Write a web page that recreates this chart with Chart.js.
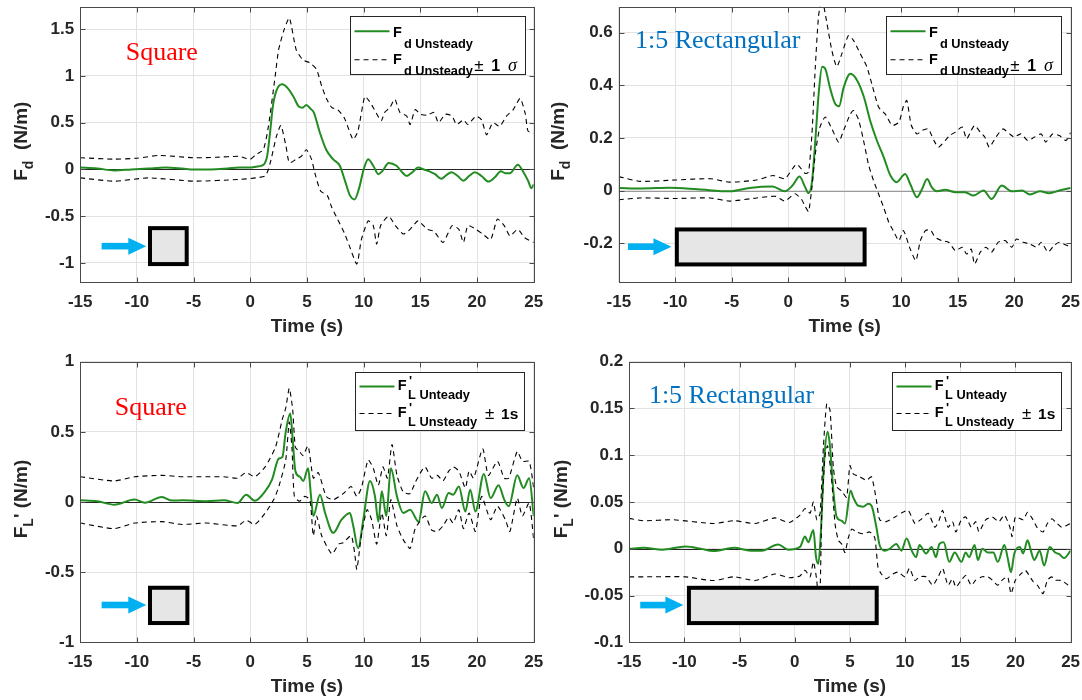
<!DOCTYPE html>
<html>
<head>
<meta charset="utf-8">
<script src="https://cdn.jsdelivr.net/npm/chart.js@4.4.1/dist/chart.umd.min.js"></script>
<style>
  body { margin: 0; background: #fff; }
  #wrap { position: relative; width: 1082px; height: 700px; overflow: hidden; background: #fff; }
  canvas { position: absolute; }
</style>
</head>
<body>
<div id="wrap">
  <canvas id="dragSquare" width="560" height="350" style="left:0;top:0"></canvas>
  <canvas id="dragRect" width="541" height="350" style="left:541px;top:0"></canvas>
  <canvas id="liftSquare" width="560" height="350" style="left:0;top:350px"></canvas>
  <canvas id="liftRect" width="541" height="350" style="left:541px;top:350px"></canvas>
</div>
<script>
// ---- data (time in s, force in N/m) ----
const xTicks = [-15, -10, -5, 0, 5, 10, 15, 20, 25];

// drag, square cylinder
const dragSqTime = [-15,-13.5,-12,-10.5,-9,-7.5,-6,-5,-3.5,-2,-1,0,0.5,1,1.3,1.5,1.75,2,2.3,2.8,3.3,3.8,4.3,4.6,4.95,5.3,5.6,6.15,6.7,7.3,7.9,8.35,8.8,9.2,9.6,10,10.4,10.85,11.3,11.7,12.2,12.9,13.4,13.8,14.3,14.8,15.3,15.8,16.3,16.85,17.3,17.75,18.3,18.8,19.3,19.8,20.4,21,21.6,22.1,22.5,22.9,23.6,24.1,24.5,24.8,25];
const dragSqMean = [0.02,0.01,-0.01,0,0.01,0.02,0.01,0,0,0.01,0.02,0.02,0.03,0.04,0.07,0.15,0.4,0.68,0.84,0.91,0.87,0.78,0.67,0.66,0.69,0.65,0.61,0.39,0.21,0.11,0.04,-0.12,-0.28,-0.32,-0.2,0,0.11,0.04,-0.05,-0.01,0.07,0.04,-0.03,-0.07,-0.03,0.02,0,-0.02,-0.05,-0.1,-0.06,-0.03,-0.07,-0.12,-0.07,-0.03,-0.07,-0.13,-0.08,-0.02,-0.04,-0.04,0.05,-0.03,-0.12,-0.2,-0.16];
const dragSqUpTime = [-15,-12,-10,-8,-5,-3,-1,0,0.5,1.15,1.6,2.2,2.5,3,3.45,4.05,4.65,5.25,5.85,6.3,6.75,7.2,7.7,8.3,8.9,9.1,9.5,10.1,10.5,10.95,11.55,11.85,12.3,12.75,13.2,13.8,14.1,14.55,15,15.6,16.2,16.6,17.2,17.8,18.2,18.8,19.2,19.9,20.4,20.85,21.4,22,22.6,23.2,23.8,24.25,24.5,25];
const dragSqUp = [0.125,0.11,0.12,0.15,0.125,0.13,0.14,0.11,0.16,0.21,0.46,1.0,1.28,1.5,1.62,1.28,1.17,1.14,1.07,0.89,0.75,0.66,0.64,0.55,0.36,0.32,0.41,0.78,0.73,0.64,0.52,0.61,0.66,0.75,0.61,0.57,0.48,0.64,0.59,0.58,0.61,0.5,0.59,0.57,0.48,0.53,0.48,0.57,0.53,0.37,0.5,0.46,0.57,0.64,0.76,0.6,0.41,0.39];
const dragSqLoTime = [-15,-12,-9,-5,-1,0.5,1.3,1.6,1.9,2.3,2.7,3.15,3.45,4.05,4.5,4.95,5.4,5.7,6.2,6.8,7.2,7.7,8.3,8.75,9.4,9.8,10.4,10.85,11.15,11.5,12.2,12.8,13.5,14.1,14.8,15.6,16.2,17,17.8,18.4,18.8,19.2,19.9,20.5,21.2,21.8,22.4,22.9,23.6,24.2,25];
const dragSqLo = [-0.09,-0.125,-0.09,-0.125,-0.107,-0.09,-0.07,0,0.14,0.35,0.47,0.25,0.07,0.11,0.14,0.21,0.11,-0.04,-0.23,-0.28,-0.41,-0.53,-0.68,-0.82,-1.01,-0.75,-0.55,-0.6,-0.8,-0.6,-0.5,-0.6,-0.69,-0.64,-0.55,-0.64,-0.66,-0.78,-0.6,-0.64,-0.78,-0.6,-0.64,-0.69,-0.75,-0.53,-0.6,-0.71,-0.64,-0.73,-0.78];
const dragSqTicks = [-1, -0.5, 0, 0.5, 1, 1.5];

// drag, 1:5 rectangular cylinder
const dragRectTime = [-15,-13,-10.5,-8,-5.2,-3.4,-1.4,-0.3,0.4,1,1.5,1.8,2.1,2.4,2.7,3,3.3,3.7,4.15,4.5,4.9,5.5,6.1,6.7,7.25,7.85,8.45,9.05,9.6,10.35,10.8,11.4,11.85,12.3,12.7,13.15,13.9,14.8,15.65,16.4,17.3,18,18.9,19.8,20.7,21.4,22.3,23.1,24,25];
const dragRectMean = [0.01,0.008,0.011,0.005,-0.003,0.01,0.015,-0.003,0.02,0.053,0.013,-0.01,0.032,0.19,0.37,0.47,0.46,0.39,0.33,0.32,0.39,0.443,0.418,0.355,0.266,0.19,0.127,0.057,0.032,0.063,0.025,-0.025,0.006,0.044,0.013,-0.003,0.003,-0.006,-0.006,-0.019,0,-0.032,0.019,-0.003,0,-0.015,-0.003,-0.01,0,0.01];
const dragRectUpTime = [-15,-13.1,-10,-6.9,-5.2,-2.8,-1.35,-0.3,0.74,1.5,1.8,2.1,2.4,2.68,2.98,3.43,3.87,4.3,4.75,5.34,5.78,6.37,6.96,7.4,8,8.6,9.2,9.8,10.2,10.5,10.9,11.4,11.85,12.4,12.9,13.3,13.9,14.3,14.8,15.4,15.8,16.2,16.5,17,17.4,17.8,18.4,19,19.6,20,20.6,21.2,21.8,22.4,22.8,23.4,24,24.6,25];
const dragRectUp = [0.053,0.035,0.04,0.045,0.032,0.04,0.057,0.045,0.1,0.065,0.07,0.215,0.47,0.66,0.73,0.634,0.53,0.47,0.52,0.589,0.57,0.52,0.47,0.405,0.317,0.29,0.247,0.26,0.32,0.342,0.247,0.215,0.228,0.234,0.19,0.165,0.19,0.209,0.222,0.241,0.196,0.228,0.247,0.222,0.203,0.165,0.203,0.234,0.215,0.203,0.215,0.19,0.203,0.215,0.184,0.215,0.209,0.19,0.22];
const dragRectLoTime = [-15,-13.1,-10,-6.9,-5.2,-2.8,-1.1,-0.3,0.6,1.2,1.5,1.8,2.1,2.4,2.8,3.28,3.87,4.46,4.9,5.49,5.78,6.22,6.67,7.1,7.55,8,8.44,8.9,9.3,9.8,10.2,10.8,11.3,11.7,12.15,12.6,13,13.6,14.2,14.8,15.4,15.8,16.2,16.5,17,17.5,18,18.6,19.2,19.8,20.2,20.8,21.4,22,22.4,23,23.5,24,25];
const dragRectLo = [-0.035,-0.028,-0.03,-0.028,-0.04,-0.028,-0.022,-0.04,-0.012,-0.035,-0.06,-0.08,0.013,0.14,0.24,0.279,0.234,0.184,0.228,0.29,0.304,0.27,0.19,0.1,0.038,-0.013,-0.063,-0.12,-0.152,-0.19,-0.152,-0.222,-0.266,-0.19,-0.152,-0.15,-0.177,-0.19,-0.196,-0.228,-0.215,-0.241,-0.222,-0.279,-0.234,-0.215,-0.234,-0.196,-0.19,-0.215,-0.184,-0.196,-0.203,-0.215,-0.196,-0.234,-0.21,-0.196,-0.215];
const dragRectTicks = [-0.2, 0, 0.2, 0.4, 0.6];

// lift, square cylinder
const liftSqTime = [-15,-13.5,-12,-10.2,-9.3,-7.8,-6.9,-6,-3.85,-2.33,-1.12,-0.36,0.4,1.31,1.92,2.52,2.83,3.13,3.53,3.74,3.98,4.38,4.67,5.1,5.35,5.56,6.15,6.6,7.32,8.05,8.79,9.08,9.52,9.97,10.56,11,11.3,11.6,12,12.4,12.94,13.5,14.1,14.84,15.42,16,16.47,16.9,17.5,17.9,18.4,18.97,19.4,19.86,20.6,21.2,21.9,22.4,22.8,23.55,24.1,24.6,25];
const liftSqMean = [0.012,0.005,-0.019,0.017,-0.005,0.036,0.01,0.012,0.005,0.012,-0.007,0.052,0.009,0.076,0.16,0.31,0.32,0.5,0.63,0.45,0.22,0.18,0.15,0.24,0.05,-0.1,0.052,-0.078,-0.22,-0.126,-0.078,-0.17,-0.33,-0.126,0.15,0.04,-0.14,0.076,-0.1,0.24,0.04,-0.078,-0.055,-0.14,0.076,-0.007,0.052,-0.043,0.064,0.052,0.11,-0.067,0.088,-0.067,0.2,0.028,0.12,0.017,-0.03,0.19,0.1,0.17,-0.1];
const liftSqUpTime = [-15,-12,-10.2,-7.8,-6,-3.85,-2.33,-1.12,-0.36,0.4,1.31,2.22,2.83,3.13,3.44,3.74,3.98,4.35,4.65,5.1,5.56,6,6.7,7.32,8.2,8.9,9.4,9.8,10.4,10.85,11.3,11.7,12.1,12.5,12.94,13.5,14.1,14.55,15.4,16,16.5,17,17.5,17.9,18.4,18.97,19.3,19.7,20.5,21,21.8,22.4,22.8,23.55,24,24.6,25];
const liftSqUp = [0.18,0.15,0.18,0.19,0.18,0.18,0.18,0.17,0.21,0.18,0.25,0.39,0.59,0.67,0.81,0.66,0.39,0.36,0.33,0.4,0.17,0.21,0.04,0.016,0.06,0.11,0.04,0.1,0.3,0.24,0.12,0.25,0.17,0.41,0.19,0.07,0.06,0.14,0.25,0.17,0.19,0.15,0.22,0.25,0.22,0.1,0.22,0.17,0.38,0.19,0.29,0.17,0.17,0.36,0.29,0.29,0.1];
const liftSqLoTime = [-15,-12,-10.2,-7.8,-6,-3.85,-1.12,-0.36,0.4,1.31,2.07,2.52,3.13,3.44,3.68,3.89,4.35,4.8,5.26,5.56,5.85,6.3,7.2,7.8,8.2,8.9,9.2,9.4,9.8,10.3,10.7,11.15,11.6,12,12.4,12.94,13.5,14.1,14.55,15.42,16,16.5,17,17.5,17.9,18.4,18.8,19.3,19.86,20.4,21.2,21.8,22.5,22.9,23.55,24,24.6,25];
const liftSqLo = [-0.15,-0.19,-0.15,-0.14,-0.16,-0.15,-0.17,-0.13,-0.16,-0.08,0.017,0.11,0.3,0.57,0.38,0.04,0.005,0.04,0.017,-0.24,-0.1,-0.24,-0.37,-0.3,-0.29,-0.24,-0.36,-0.48,-0.24,-0.055,-0.126,-0.3,-0.078,-0.24,0.017,-0.17,-0.27,-0.33,-0.19,-0.1,-0.2,-0.21,-0.17,-0.11,-0.15,-0.055,-0.19,-0.078,-0.21,0.04,-0.126,-0.03,-0.126,-0.21,0.028,-0.1,-0.007,-0.27];
const liftSqTicks = [-1, -0.5, 0, 0.5, 1];

// lift, 1:5 rectangular cylinder
const liftRectTime = [-15,-13.7,-12,-9.9,-8.5,-7.4,-5.5,-4,-3,-1.5,-0.6,0.48,0.93,1.23,1.69,1.93,2.14,2.35,2.65,2.98,3.2,3.5,3.8,4.25,4.55,5.06,5.3,5.75,6.2,6.66,6.96,7.4,7.7,8.16,8.6,9.2,9.67,10.13,10.6,11,11.3,11.9,12.4,12.8,13.1,13.5,14,14.5,15.1,15.5,15.8,16.3,16.6,17,17.5,18,18.4,19,19.3,19.6,19.9,20.4,20.7,21.1,21.4,21.7,22.2,22.6,23.1,23.6,24,24.4,25];
const liftRectMean = [0,0.001,-0.001,0.0025,0,-0.0025,0.001,-0.002,-0.002,0.0046,-0.001,0.002,0.013,0.007,0.02,-0.009,-0.016,0.013,0.091,0.125,0.109,0.062,0.034,0.03,0.027,0.062,0.055,0.046,0.045,0.048,0.046,0.023,0.0035,-0.002,0,0.005,-0.002,0.011,-0.002,-0.009,0.004,-0.005,0.002,-0.009,0.005,0.007,-0.014,-0.004,-0.014,-0.004,-0.009,0.004,-0.012,0,-0.004,-0.004,-0.014,0.004,-0.01,-0.025,-0.005,0.002,-0.005,0.009,-0.002,-0.012,-0.002,-0.018,0.002,-0.004,-0.006,-0.01,-0.002];
const liftRectUpTime = [-15,-13.7,-11,-7.4,-5.5,-3.6,-1.8,-0.5,0.48,0.93,1.39,1.69,2,2.3,2.6,2.9,3.2,3.5,3.8,4.25,4.7,5,5.3,5.9,6.5,6.96,7.4,7.7,8.3,9.1,9.8,10.3,10.9,11.5,12.1,12.7,13.1,13.4,13.9,14.3,14.6,15.1,15.5,16,16.4,16.7,17.3,17.9,18.5,19,19.5,19.7,20,20.7,21.1,21.6,22,22.5,22.9,23.3,23.6,24.2,25];
const liftRectUp = [0.0325,0.03,0.031,0.027,0.03,0.027,0.033,0.028,0.036,0.043,0.038,0.05,0.031,0.038,0.109,0.155,0.148,0.087,0.066,0.062,0.055,0.089,0.08,0.077,0.073,0.077,0.052,0.031,0.029,0.034,0.039,0.041,0.027,0.032,0.038,0.023,0.031,0.041,0.023,0.029,0.018,0.031,0.034,0.023,0.029,0.018,0.031,0.034,0.029,0.036,0.023,0.013,0.034,0.031,0.039,0.031,0.022,0.018,0.027,0.032,0.029,0.023,0.027];
const liftRectLoTime = [-15,-13.7,-9.9,-7.4,-5.5,-3.6,-1.8,-0.5,0.48,0.93,1.39,1.69,2,2.14,2.3,2.45,2.75,2.98,3.35,3.65,3.95,4.25,4.55,4.86,5.17,5.6,6.2,6.8,7.25,7.55,7.85,8.3,8.9,9.35,10,10.4,10.9,11.3,11.9,12.5,13,13.4,13.9,14.3,14.6,15.1,15.5,16,16.4,17,17.5,17.9,18.4,18.8,19.3,19.6,20,20.5,20.9,21.6,22,22.5,22.9,23.3,23.6,24.2,25];
const liftRectLo = [-0.03,-0.03,-0.03,-0.034,-0.03,-0.034,-0.027,-0.031,-0.029,-0.023,-0.03,-0.014,-0.034,-0.06,-0.045,0.037,0.1,0.11,0.073,0.027,0.009,0.005,-0.004,0.012,0.021,0.018,0.016,0.018,0.012,-0.02,-0.027,-0.032,-0.027,-0.025,-0.03,-0.021,-0.034,-0.03,-0.03,-0.039,-0.03,-0.021,-0.039,-0.032,-0.041,-0.0335,-0.0286,-0.039,-0.0335,-0.03,-0.03,-0.0335,-0.039,-0.0335,-0.03,-0.048,-0.0335,-0.0268,-0.023,-0.035,-0.039,-0.048,-0.0335,-0.03,-0.0335,-0.034,-0.041];
const liftRectTicks = [-0.1, -0.05, 0, 0.05, 0.1, 0.15, 0.2];

// ---- styling ----
const SANS = '"Liberation Sans", Arial, Helvetica, sans-serif';
const SERIF = '"Liberation Serif", "Times New Roman", serif';
const B = s => 'bold ' + s + 'px ' + SANS;
const INK = '#262626';
const GREEN = '#228b22';

Chart.defaults.font.family = SANS;

const pts = (t, v) => t.map((x, i) => ({ x: x, y: v[i] }));

// legend layouts (offsets inside the legend box)
const legendDrag = {
  w: 174.5, h: 58.3, right: 9.7, top: 9.5,
  rows: [
    { line: 14.7, color: GREEN, width: 2, dash: [],
      segs: [{ t: 'F', x: 42.4, y: 20, f: B(14.5) }, { t: 'd Unsteady', x: 53.4, y: 31, f: B(12.8) }] },
    { line: 43.3, color: '#000', width: 1.1, dash: [5, 4],
      segs: [{ t: 'F', x: 42.4, y: 47, f: B(14.5) }, { t: 'd Unsteady', x: 53.4, y: 58.5, f: B(12.8) },
             { t: '\u00b1', x: 123.7, y: 54, f: '17px ' + SANS }, { t: '1', x: 140.7, y: 54, f: B(16) },
             { t: '\u03c3', x: 157.5, y: 54, f: 'italic 18px ' + SERIF }] }
  ]
};
const legendLift = {
  w: 168.6, h: 58.3, right: 9.7, top: 10,
  rows: [
    { line: 14, color: GREEN, width: 2, dash: [],
      segs: [{ t: 'F', x: 42.3, y: 17.6, f: B(14.5) }, { t: "'", x: 53.5, y: 12.5, f: B(13) },
             { t: 'L', x: 52.6, y: 26.6, f: B(12.8) }, { t: 'Unteady', x: 64, y: 26.6, f: B(12.8) }] },
    { line: 41, color: '#000', width: 1.1, dash: [5, 4],
      segs: [{ t: 'F', x: 42.3, y: 44.3, f: B(14.5) }, { t: "'", x: 53.5, y: 39.2, f: B(13) },
             { t: 'L', x: 52.6, y: 53, f: B(12.8) }, { t: 'Unsteady', x: 64, y: 53, f: B(12.8) },
             { t: '\u00b1', x: 129.4, y: 46, f: '17px ' + SANS }, { t: '1s', x: 145.6, y: 46, f: B(15.5) }] }
  ]
};

const titleDrag = [{ t: 'F', f: B(19) }, { t: 'd', f: B(14), dy: 6 }, { t: '  (N/m)', f: B(19) }];
const titleLift = [{ t: 'F', f: B(19) }, { t: 'L', f: B(14), dy: 6 }, { t: "'", f: B(19) }, { t: ' (N/m)', f: B(19) }];

const panels = {
  dragSquare: {
    t: dragSqTime, m: dragSqMean, ut: dragSqUpTime, u: dragSqUp, lt: dragSqLoTime, l: dragSqLo,
    yMin: -1.2, yMax: 1.74, yTicks: dragSqTicks,
    yW: 80.2, xH: 68.3, pad: { left: 0, top: 6.7, right: 26.3, bottom: 0 },
    zero: '#262626', titleX: 27, ytitle: titleDrag, legend: legendDrag,
    label: { text: 'Square', color: '#ff0000', dx: 45.5, dy: 53.3 },
    shape: { x0: -9.02, x1: -5.43, y0: -0.606, y1: -1.033, ax0: -13.11, ax1: -9.17, ay: -0.82 }
  },
  dragRect: {
    t: dragRectTime, m: dragRectMean, ut: dragRectUpTime, u: dragRectUp, lt: dragRectLoTime, l: dragRectLo,
    yMin: -0.346, yMax: 0.698, yTicks: dragRectTicks,
    yW: 77.8, xH: 68.3, pad: { left: 0, top: 6.7, right: 11.4, bottom: 0 },
    zero: '#9a9a9a', titleX: 23.2, ytitle: titleDrag, legend: legendDrag,
    label: { text: '1:5 Rectangular', color: '#0070c0', dx: 16.2, dy: 41.6 },
    shape: { x0: -10.04, x1: 6.94, y0: -0.14, y1: -0.288, ax0: -14.19, ax1: -10.34, ay: -0.213 }
  },
  liftSquare: {
    t: liftSqTime, m: liftSqMean, ut: liftSqUpTime, u: liftSqUp, lt: liftSqLoTime, l: liftSqLo,
    yMin: -1, yMax: 1, yTicks: liftSqTicks,
    yW: 80.2, xH: 57.7, pad: { left: 0, top: 11.7, right: 26.3, bottom: 0 },
    zero: '#262626', titleX: 27, ytitle: titleLift, legend: legendLift,
    label: { text: 'Square', color: '#ff0000', dx: 34.5, dy: 53.3 },
    shape: { x0: -9.02, x1: -5.37, y0: -0.597, y1: -0.877, ax0: -13.11, ax1: -9.17, ay: -0.734 }
  },
  liftRect: {
    t: liftRectTime, m: liftRectMean, ut: liftRectUpTime, u: liftRectUp, lt: liftRectLoTime, l: liftRectLo,
    yMin: -0.1, yMax: 0.2, yTicks: liftRectTicks,
    yW: 88.2, xH: 57.7, pad: { left: 0, top: 11.7, right: 11.4, bottom: 0 },
    zero: '#262626', titleX: 26, ytitle: titleLift, legend: legendLift,
    label: { text: '1:5 Rectangular', color: '#0070c0', dx: 19.7, dy: 41.6 },
    shape: { x0: -9.77, x1: 7.61, y0: -0.0396, y1: -0.0816, ax0: -14.0, ax1: -10.09, ay: -0.0602 }
  }
};

function drawYTitle(ctx, a, p) {
  ctx.save();
  ctx.translate(p.titleX, (a.top + a.bottom) / 2 - 3);
  ctx.rotate(-Math.PI / 2);
  let w = 0;
  p.ytitle.forEach(s => { ctx.font = s.f; w += ctx.measureText(s.t).width; });
  let x = -w / 2;
  ctx.fillStyle = INK;
  ctx.textBaseline = 'alphabetic';
  p.ytitle.forEach(s => {
    ctx.font = s.f;
    ctx.fillText(s.t, x, s.dy || 0);
    x += ctx.measureText(s.t).width;
  });
  ctx.restore();
}

function drawLegend(ctx, a, L) {
  const x0 = Math.round(a.right - L.right - L.w) + 0.5;
  const y0 = Math.round(a.top + L.top) + 0.5;
  ctx.save();
  ctx.fillStyle = '#fff';
  ctx.fillRect(x0, y0, L.w, L.h);
  ctx.strokeStyle = INK;
  ctx.lineWidth = 1;
  ctx.strokeRect(x0, y0, Math.round(L.w), Math.round(L.h));
  L.rows.forEach(r => {
    ctx.save();
    ctx.strokeStyle = r.color;
    ctx.lineWidth = r.width;
    ctx.setLineDash(r.dash);
    ctx.beginPath();
    ctx.moveTo(x0 + 4, y0 + r.line);
    ctx.lineTo(x0 + 39, y0 + r.line);
    ctx.stroke();
    ctx.restore();
    ctx.fillStyle = '#000';
    ctx.textBaseline = 'alphabetic';
    r.segs.forEach(s => { ctx.font = s.f; ctx.fillText(s.t, x0 + s.x, y0 + s.y); });
  });
  ctx.restore();
}

const panelDecor = {
  id: 'panelDecor',
  beforeDatasetsDraw(chart) {
    const p = panels[chart.canvas.id];
    const { ctx, chartArea: a, scales } = chart;
    const y0 = Math.round(scales.y.getPixelForValue(0)) + 0.5;
    ctx.save();
    ctx.strokeStyle = p.zero;
    ctx.lineWidth = 1;
    ctx.beginPath();
    ctx.moveTo(a.left, y0);
    ctx.lineTo(a.right, y0);
    ctx.stroke();
    ctx.restore();
  },
  afterDatasetsDraw(chart) {
    const p = panels[chart.canvas.id];
    const { ctx, chartArea: a, scales } = chart;
    const L = Math.round(a.left) + 0.5, R = Math.round(a.right) + 0.5;
    const T = Math.round(a.top) + 0.5, Bt = Math.round(a.bottom) + 0.5;
    ctx.save();
    ctx.strokeStyle = '#4a4a4a';
    ctx.lineWidth = 1;
    ctx.strokeRect(L, T, R - L, Bt - T);
    ctx.beginPath();
    xTicks.forEach(v => {
      const x = Math.round(scales.x.getPixelForValue(v)) + 0.5;
      ctx.moveTo(x, Bt); ctx.lineTo(x, Bt - 5);
      ctx.moveTo(x, T); ctx.lineTo(x, T + 5);
    });
    p.yTicks.forEach(v => {
      const y = Math.round(scales.y.getPixelForValue(v)) + 0.5;
      ctx.moveTo(L, y); ctx.lineTo(L + 5, y);
      ctx.moveTo(R, y); ctx.lineTo(R - 5, y);
    });
    ctx.stroke();
    ctx.restore();
  },
  afterDraw(chart) {
    const p = panels[chart.canvas.id];
    const { ctx, chartArea: a, scales } = chart;
    const sx = v => scales.x.getPixelForValue(v), sy = v => scales.y.getPixelForValue(v);
    const s = p.shape;
    ctx.save();
    // flow arrow
    const ax0 = sx(s.ax0), ax1 = sx(s.ax1), ay = sy(s.ay);
    ctx.fillStyle = '#00b0f0';
    ctx.fillRect(ax0, ay - 3.3, ax1 - ax0 - 17, 6.6);
    ctx.beginPath();
    ctx.moveTo(ax1 - 18, ay - 8.5);
    ctx.lineTo(ax1, ay);
    ctx.lineTo(ax1 - 18, ay + 8.5);
    ctx.closePath();
    ctx.fill();
    // cylinder cross-section
    const bx0 = sx(s.x0), bx1 = sx(s.x1), by0 = sy(s.y0), by1 = sy(s.y1);
    ctx.fillStyle = '#e6e6e6';
    ctx.fillRect(bx0 + 2, by0 + 2, bx1 - bx0 - 4, by1 - by0 - 4);
    ctx.strokeStyle = '#000';
    ctx.lineWidth = 4;
    ctx.strokeRect(bx0 + 2, by0 + 2, bx1 - bx0 - 4, by1 - by0 - 4);
    // panel label
    ctx.font = '26px ' + SERIF;
    ctx.fillStyle = p.label.color;
    ctx.textBaseline = 'alphabetic';
    ctx.fillText(p.label.text, a.left + p.label.dx, a.top + p.label.dy);
    // axis titles
    ctx.font = B(19);
    ctx.fillStyle = INK;
    ctx.textAlign = 'center';
    ctx.fillText('Time (s)', (a.left + a.right) / 2, a.bottom + 50);
    ctx.textAlign = 'left';
    ctx.restore();
    drawYTitle(ctx, a, p);
    drawLegend(ctx, a, p.legend);
  }
};

function buildChart(id) {
  const p = panels[id];
  return new Chart(document.getElementById(id), {
    type: 'line',
    data: {
      datasets: [
        { label: 'mean', data: pts(p.t, p.m), borderColor: GREEN, borderWidth: 2, pointRadius: 0,
          cubicInterpolationMode: 'monotone', order: 1 },
        { label: 'plus sigma', data: pts(p.ut, p.u), borderColor: '#000', borderWidth: 1.1,
          borderDash: [5, 4], pointRadius: 0, tension: 0.2, order: 0 },
        { label: 'minus sigma', data: pts(p.lt, p.l), borderColor: '#000', borderWidth: 1.1,
          borderDash: [5, 4], pointRadius: 0, tension: 0.2, order: 0 }
      ]
    },
    options: {
      responsive: false,
      animation: false,
      events: [],
      layout: { padding: p.pad },
      plugins: { legend: { display: false }, tooltip: { enabled: false } },
      scales: {
        x: {
          type: 'linear', min: -15, max: 25,
          afterBuildTicks: sc => { sc.ticks = xTicks.map(v => ({ value: v })); },
          afterFit: sc => { sc.height = p.xH; sc.paddingLeft = 0; sc.paddingRight = 0; },
          ticks: { font: { size: 17, weight: 'bold' }, color: INK, padding: 10, maxRotation: 0,
                   autoSkip: false, callback: v => String(v) },
          grid: { color: '#e2e2e2', drawTicks: false },
          border: { display: false }
        },
        y: {
          type: 'linear', min: p.yMin, max: p.yMax,
          afterBuildTicks: sc => { sc.ticks = p.yTicks.map(v => ({ value: v })); },
          afterFit: sc => { sc.width = p.yW; sc.paddingTop = 0; sc.paddingBottom = 0; },
          ticks: { font: { size: 17, weight: 'bold' }, color: INK, padding: 6, autoSkip: false,
                   callback: v => String(v) },
          grid: { color: '#e2e2e2', drawTicks: false },
          border: { display: false }
        }
      }
    },
    plugins: [panelDecor]
  });
}

['dragSquare', 'dragRect', 'liftSquare', 'liftRect'].forEach(buildChart);
</script>
</body>
</html>
